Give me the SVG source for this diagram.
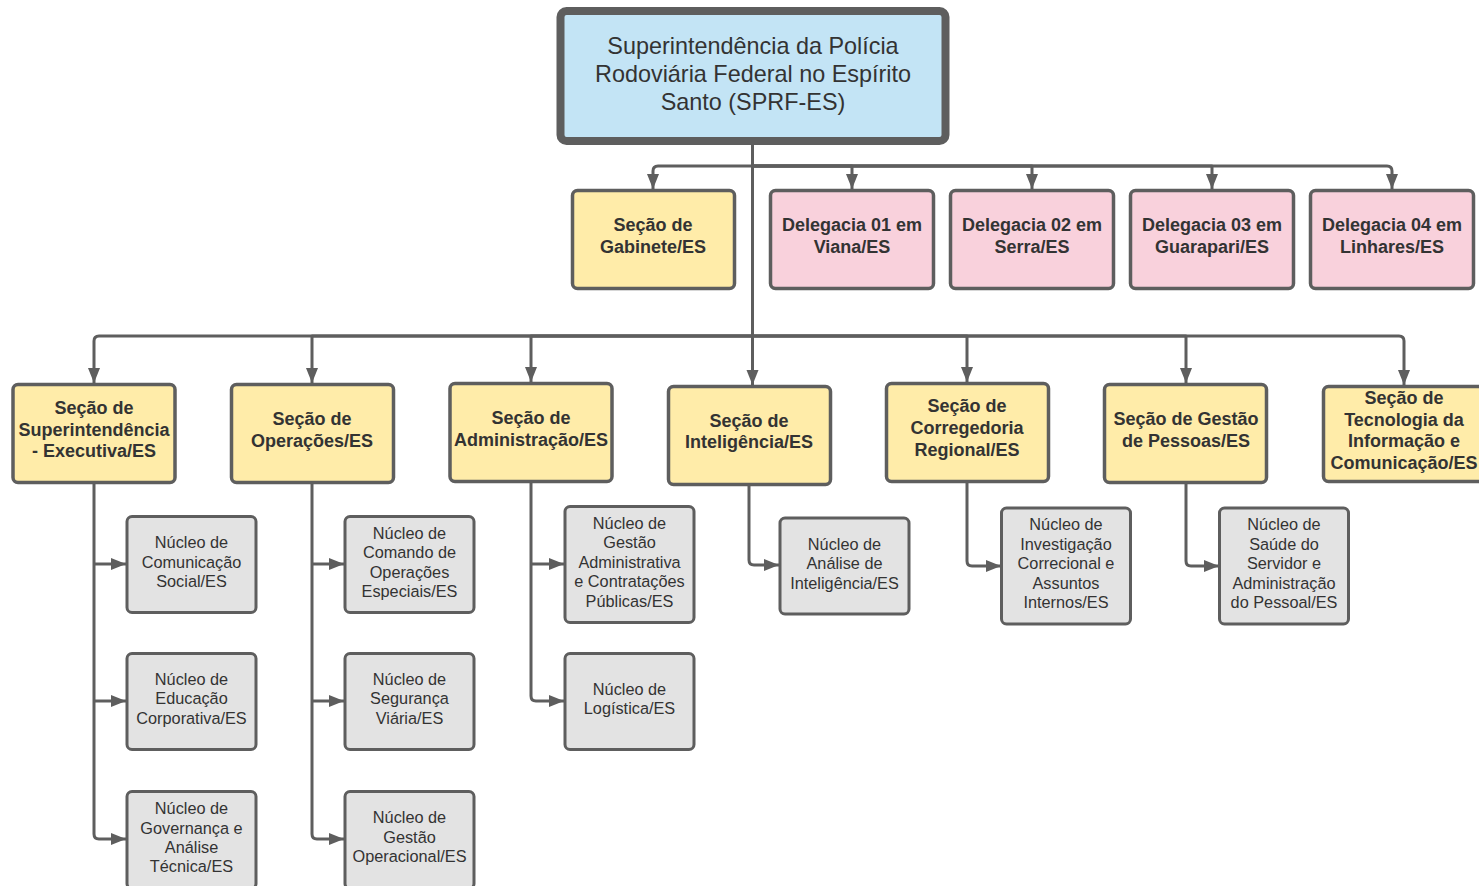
<svg xmlns="http://www.w3.org/2000/svg" width="1479" height="886" viewBox="0 0 1479 886">
<defs>
<marker id="arr" markerUnits="userSpaceOnUse" markerWidth="16" markerHeight="14" viewBox="0 0 16 14" refX="15" refY="7" orient="auto">
<path d="M0,1 L15,7 L0,13 Z" fill="#5e5e5e"/>
</marker>
<style>
.box{stroke:#5e5e5e;stroke-width:3.5}
.top{fill:#c3e4f5;stroke:#5e5e5e;stroke-width:8}
.yel{fill:#ffeca9}
.pnk{fill:#f9d1dc}
.gry{fill:#e3e3e3;stroke-width:3}
.c{fill:none;stroke:#5e5e5e;stroke-width:3;stroke-linejoin:round}
.ca{fill:none;stroke:#5e5e5e;stroke-width:3;stroke-linejoin:round;marker-end:url(#arr)}
text{font-family:"Liberation Sans",Arial,sans-serif;fill:#333333;text-anchor:middle}
.t1{font-size:23.4px}
.tb{font-size:18px;font-weight:bold}
.tg{font-size:16.3px}
</style>
</defs>
<rect width="1479" height="886" fill="#ffffff"/>

<g id="connectors">
<path class="c" d="M752.5,141 V336"/>
<path class="ca" d="M752.5,166 H658 Q653,166 653,171 V189"/>
<path class="ca" d="M752.5,166 H852 V189"/>
<path class="ca" d="M752.5,166 H1032 V189"/>
<path class="ca" d="M752.5,166 H1212 V189"/>
<path class="ca" d="M752.5,166 H1387 Q1392,166 1392,171 V189"/>
<path class="ca" d="M752.5,336 H99 Q94,336 94,341 V383"/>
<path class="ca" d="M752.5,336 H312 V383"/>
<path class="ca" d="M752.5,336 H531 V382"/>
<path class="ca" d="M752.5,336 V385"/>
<path class="ca" d="M752.5,336 H967 V382"/>
<path class="ca" d="M752.5,336 H1186 V383"/>
<path class="ca" d="M752.5,336 H1399 Q1404,336 1404,341 V385"/>

<path class="c" d="M94,484 V834 Q94,839 99,839"/>
<path class="ca" d="M94,564 H126"/>
<path class="ca" d="M94,701 H126"/>
<path class="ca" d="M99,839 H126"/>

<path class="c" d="M312,484 V834 Q312,839 317,839"/>
<path class="ca" d="M312,564 H344"/>
<path class="ca" d="M312,701 H344"/>
<path class="ca" d="M317,839 H344"/>

<path class="c" d="M531,482 V696 Q531,701 536,701"/>
<path class="ca" d="M531,564 H564"/>
<path class="ca" d="M536,701 H564"/>

<path class="ca" d="M749,485 V560 Q749,565 754,565 H779"/>
<path class="ca" d="M967,482 V561 Q967,566 972,566 H1001"/>
<path class="ca" d="M1186,483 V561 Q1186,566 1191,566 H1219"/>
</g>

<g id="n-sprf">
<rect class="top" x="560.5" y="11" width="385" height="130" rx="6"/>
<text class="t1" x="753" y="54">Superintendência da Polícia</text>
<text class="t1" x="753" y="82">Rodoviária Federal no Espírito</text>
<text class="t1" x="753" y="110">Santo (SPRF-ES)</text>
</g>

<g id="n-gabinete">
<rect class="box yel" x="572.5" y="190.5" width="162" height="98" rx="5"/>
<text class="tb" x="653" y="231">Seção de</text>
<text class="tb" x="653" y="253">Gabinete/ES</text>
</g>
<g id="n-del01">
<rect class="box pnk" x="770.5" y="190.5" width="163" height="98" rx="5"/>
<text class="tb" x="852" y="231">Delegacia 01 em</text>
<text class="tb" x="852" y="253">Viana/ES</text>
</g>
<g id="n-del02">
<rect class="box pnk" x="950.5" y="190.5" width="163" height="98" rx="5"/>
<text class="tb" x="1032" y="231">Delegacia 02 em</text>
<text class="tb" x="1032" y="253">Serra/ES</text>
</g>
<g id="n-del03">
<rect class="box pnk" x="1130.5" y="190.5" width="163" height="98" rx="5"/>
<text class="tb" x="1212" y="231">Delegacia 03 em</text>
<text class="tb" x="1212" y="253">Guarapari/ES</text>
</g>
<g id="n-del04">
<rect class="box pnk" x="1310.5" y="190.5" width="163" height="98" rx="5"/>
<text class="tb" x="1392" y="231">Delegacia 04 em</text>
<text class="tb" x="1392" y="253">Linhares/ES</text>
</g>

<g id="n-superexec">
<rect class="box yel" x="13" y="384.5" width="162" height="98" rx="5"/>
<text class="tb" x="94" y="414">Seção de</text>
<text class="tb" x="94" y="436">Superintendência</text>
<text class="tb" x="94" y="457">- Executiva/ES</text>
</g>
<g id="n-operacoes">
<rect class="box yel" x="231.5" y="384.5" width="162" height="98" rx="5"/>
<text class="tb" x="312" y="425">Seção de</text>
<text class="tb" x="312" y="447">Operações/ES</text>
</g>
<g id="n-administracao">
<rect class="box yel" x="450" y="383.5" width="162" height="98" rx="5"/>
<text class="tb" x="531" y="424">Seção de</text>
<text class="tb" x="531" y="446">Administração/ES</text>
</g>
<g id="n-inteligencia">
<rect class="box yel" x="668.5" y="386.5" width="162" height="98" rx="5"/>
<text class="tb" x="749" y="427">Seção de</text>
<text class="tb" x="749" y="448">Inteligência/ES</text>
</g>
<g id="n-corregedoria">
<rect class="box yel" x="886.5" y="383.5" width="162" height="98" rx="5"/>
<text class="tb" x="967" y="412">Seção de</text>
<text class="tb" x="967" y="434">Corregedoria</text>
<text class="tb" x="967" y="456">Regional/ES</text>
</g>
<g id="n-pessoas">
<rect class="box yel" x="1104.5" y="384.5" width="162" height="98" rx="5"/>
<text class="tb" x="1186" y="425">Seção de Gestão</text>
<text class="tb" x="1186" y="447">de Pessoas/ES</text>
</g>
<g id="n-tic">
<rect class="box yel" x="1323.5" y="386.5" width="163" height="95" rx="5"/>
<text class="tb" x="1404" y="404">Seção de</text>
<text class="tb" x="1404" y="426">Tecnologia da</text>
<text class="tb" x="1404" y="447">Informação e</text>
<text class="tb" x="1404" y="469">Comunicação/ES</text>
</g>

<g id="n-comunicacao">
<rect class="box gry" x="127" y="516.5" width="129" height="96" rx="5"/>
<text class="tg" x="191.5" y="548">Núcleo de</text>
<text class="tg" x="191.5" y="568">Comunicação</text>
<text class="tg" x="191.5" y="587">Social/ES</text>
</g>
<g id="n-educacao">
<rect class="box gry" x="127" y="653.5" width="129" height="96" rx="5"/>
<text class="tg" x="191.5" y="685">Núcleo de</text>
<text class="tg" x="191.5" y="704">Educação</text>
<text class="tg" x="191.5" y="724">Corporativa/ES</text>
</g>
<g id="n-governanca">
<rect class="box gry" x="127" y="791.5" width="129" height="97" rx="5"/>
<text class="tg" x="191.5" y="814">Núcleo de</text>
<text class="tg" x="191.5" y="834">Governança e</text>
<text class="tg" x="191.5" y="853">Análise</text>
<text class="tg" x="191.5" y="872">Técnica/ES</text>
</g>

<g id="n-comando">
<rect class="box gry" x="345" y="516.5" width="129" height="96" rx="5"/>
<text class="tg" x="409.5" y="539">Núcleo de</text>
<text class="tg" x="409.5" y="558">Comando de</text>
<text class="tg" x="409.5" y="578">Operações</text>
<text class="tg" x="409.5" y="597">Especiais/ES</text>
</g>
<g id="n-seguranca">
<rect class="box gry" x="345" y="653.5" width="129" height="96" rx="5"/>
<text class="tg" x="409.5" y="685">Núcleo de</text>
<text class="tg" x="409.5" y="704">Segurança</text>
<text class="tg" x="409.5" y="724">Viária/ES</text>
</g>
<g id="n-gestaoop">
<rect class="box gry" x="345" y="791.5" width="129" height="97" rx="5"/>
<text class="tg" x="409.5" y="823">Núcleo de</text>
<text class="tg" x="409.5" y="843">Gestão</text>
<text class="tg" x="409.5" y="862">Operacional/ES</text>
</g>

<g id="n-gestaoadm">
<rect class="box gry" x="565" y="506.5" width="129" height="116" rx="5"/>
<text class="tg" x="629.5" y="529">Núcleo de</text>
<text class="tg" x="629.5" y="548">Gestão</text>
<text class="tg" x="629.5" y="568">Administrativa</text>
<text class="tg" x="629.5" y="587">e Contratações</text>
<text class="tg" x="629.5" y="607">Públicas/ES</text>
</g>
<g id="n-logistica">
<rect class="box gry" x="565" y="653.5" width="129" height="96" rx="5"/>
<text class="tg" x="629.5" y="695">Núcleo de</text>
<text class="tg" x="629.5" y="714">Logística/ES</text>
</g>

<g id="n-analise">
<rect class="box gry" x="780" y="518" width="129" height="96" rx="5"/>
<text class="tg" x="844.5" y="550">Núcleo de</text>
<text class="tg" x="844.5" y="569">Análise de</text>
<text class="tg" x="844.5" y="589">Inteligência/ES</text>
</g>

<g id="n-investigacao">
<rect class="box gry" x="1001.5" y="508" width="129" height="116" rx="5"/>
<text class="tg" x="1066" y="530">Núcleo de</text>
<text class="tg" x="1066" y="550">Investigação</text>
<text class="tg" x="1066" y="569">Correcional e</text>
<text class="tg" x="1066" y="589">Assuntos</text>
<text class="tg" x="1066" y="608">Internos/ES</text>
</g>

<g id="n-saude">
<rect class="box gry" x="1219.5" y="508" width="129" height="116" rx="5"/>
<text class="tg" x="1284" y="530">Núcleo de</text>
<text class="tg" x="1284" y="550">Saúde do</text>
<text class="tg" x="1284" y="569">Servidor e</text>
<text class="tg" x="1284" y="589">Administração</text>
<text class="tg" x="1284" y="608">do Pessoal/ES</text>
</g>
</svg>
